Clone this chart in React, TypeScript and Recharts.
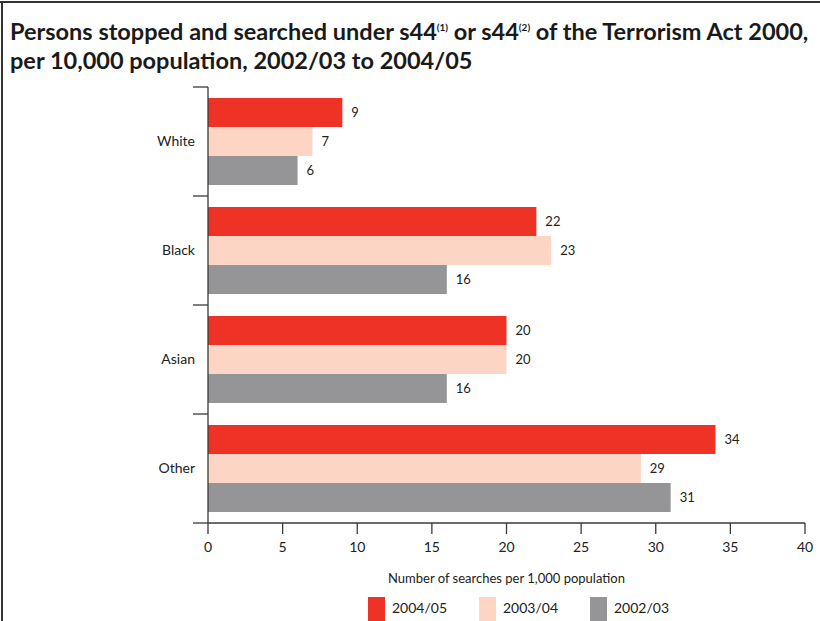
import { BarChart, Bar, XAxis, YAxis, LabelList } from "recharts"

const groups = ["White", "Black", "Asian", "Other"]
const y2004 = [9, 22, 20, 34]
const y2003 = [7, 23, 20, 29]
const y2002 = [6, 16, 16, 31]
const xTicks = [0, 5, 10, 15, 20, 25, 30, 35, 40]

const seriesInfo = [
  { key: "y2004", name: "2004/05", color: "#EE3326" },
  { key: "y2003", name: "2003/04", color: "#FDD5C4" },
  { key: "y2002", name: "2002/03", color: "#959598" },
]

const data = groups.map((g, i) => ({ g, y2004: y2004[i], y2003: y2003[i], y2002: y2002[i] }))

const FONT = "Lato, 'Open Sans', sans-serif"
const AXIS = "#3a3a3a"

function CatTick(props: any) {
  const { x, y, payload, index } = props
  const half = payload?.offset ?? 54
  const right = x + 13
  return (
    <g>
      <text x={x} y={y} dy="0.35em" textAnchor="end" fontSize={14} fill="#222" fontFamily={FONT}>
        {payload.value}
      </text>
      <line x1={right - 15} x2={right} y1={y - half} y2={y - half} stroke={AXIS} strokeWidth={1.3} />
      {index === groups.length - 1 && (
        <line x1={right - 15} x2={right} y1={y + half} y2={y + half} stroke={AXIS} strokeWidth={1.3} />
      )}
    </g>
  )
}

export default function App() {
  return (
    <div style={{ position: "absolute", top: 0, left: 0, width: 820, height: 621, background: "#fff", overflow: "hidden", fontFamily: FONT }}>
      <div style={{ position: "absolute", top: 1, left: 0, width: 820, height: 2, background: "#333" }} />
      <div style={{ position: "absolute", top: 1, left: 1, width: 2, height: 620, background: "#333" }} />
      <div style={{ position: "absolute", top: 13, left: 10, fontSize: 23.5, fontWeight: 700, lineHeight: "29px", color: "#1a1a1a", whiteSpace: "nowrap" }}>
        Persons stopped and searched under s44<sup style={{ fontSize: 10 }}>(1)</sup> or s44<sup style={{ fontSize: 10 }}>(2)</sup> of the Terrorism Act 2000,
        <br />
        per 10,000 population, 2002/03 to 2004/05
      </div>
      <div style={{ position: "absolute", top: 0, left: 0 }}>
        <BarChart
          width={820}
          height={621}
          data={data}
          layout="vertical"
          margin={{ top: 87, right: 15, bottom: 33, left: 100 }}
          barCategoryGap="10%"
          barGap={0}
        >
          <XAxis
            type="number"
            domain={[0, 40]}
            ticks={xTicks}
            interval={0}
            height={65}
            tickSize={11}
            tickMargin={8}
            axisLine={{ stroke: AXIS, strokeWidth: 1.3 }}
            tickLine={{ stroke: AXIS, strokeWidth: 1.3 }}
            tick={{ fontSize: 14, fill: "#222", fontFamily: FONT }}
            label={{ value: "Number of searches per 1,000 population", position: "insideBottom", offset: 5, fontSize: 13, fill: "#222", fontFamily: FONT }}
          />
          <YAxis
            type="category"
            dataKey="g"
            width={108}
            tickSize={0}
            tickMargin={13}
            tickLine={false}
            axisLine={{ stroke: AXIS, strokeWidth: 1.3 }}
            tick={<CatTick />}
          />
          {seriesInfo.map((s) => (
            <Bar key={s.key} dataKey={s.key} name={s.name} fill={s.color} isAnimationActive={false}>
              <LabelList dataKey={s.key} position="right" offset={9} fontSize={13} fill="#222" fontFamily={FONT} />
            </Bar>
          ))}
        </BarChart>
      </div>
      <div style={{ position: "absolute", top: 597, left: 368, display: "flex" }}>
        {seriesInfo.map((s) => (
          <div key={s.key} style={{ width: 111, display: "flex", alignItems: "flex-start" }}>
            <div style={{ width: 17, height: 26, background: s.color, marginRight: 7 }} />
            <span style={{ fontSize: 14, color: "#222", lineHeight: "22px" }}>{s.name}</span>
          </div>
        ))}
      </div>
    </div>
  )
}
